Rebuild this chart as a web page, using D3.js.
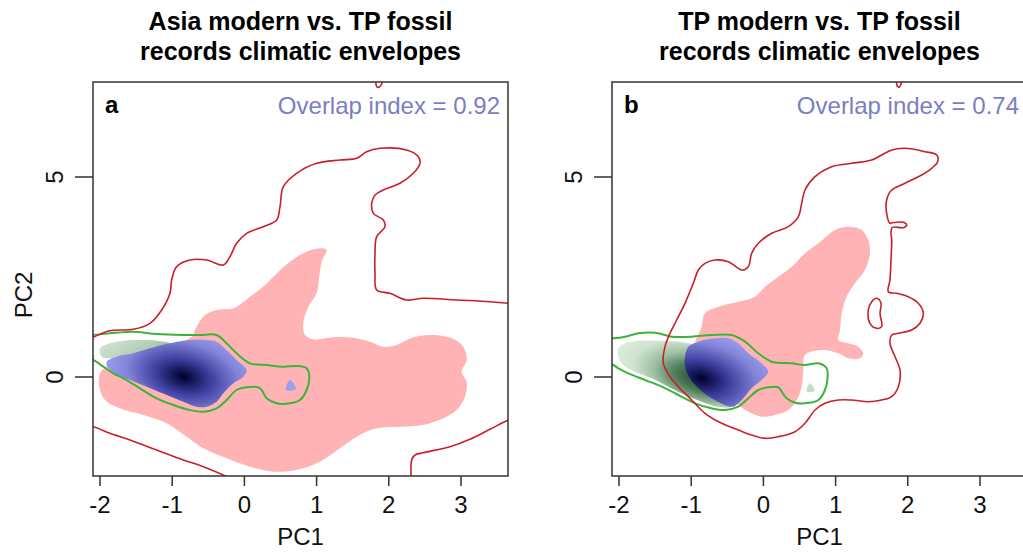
<!DOCTYPE html>
<html>
<head>
<meta charset="utf-8">
<script src="https://cdn.jsdelivr.net/npm/d3@7"></script>
<style>
  body { margin: 0; background: #fff; }
  svg { font-family: "Liberation Sans", Arial, sans-serif; }
  .tick-label { font-size: 24px; fill: #111; }
  .axis-title { font-size: 24px; fill: #111; }
  .title { font-size: 25px; font-weight: bold; fill: #000; }
</style>
</head>
<body>
<div id="chart"></div>
<script>
// ---- data (PC1, PC2 coordinates) ----
var xTicks = [-2, -1, 0, 1, 2, 3];
var yTicks = [0, 5];
var titlesA = ["Asia modern vs. TP fossil", "records climatic envelopes"];
var titlesB = ["TP modern vs. TP fossil", "records climatic envelopes"];
var overlapA = 0.92;
var overlapB = 0.74;

// panel a
var redA_upper = [[-2.25,0.94],[-2.139,0.967],[-1.862,1.158],[-1.539,1.192],[-1.308,1.342],[-1.146,1.675],[-1.031,2.092],[-1.008,2.425],[-0.939,2.758],[-0.754,2.925],[-0.523,2.925],[-0.292,2.8],[-0.2,3.008],[-0.108,3.342],[0.031,3.592],[0.262,3.758],[0.447,3.925],[0.493,4.258],[0.539,4.758],[0.723,5.092],[1.0,5.342],[1.324,5.425],[1.555,5.467],[1.693,5.633],[1.878,5.717],[2.247,5.675],[2.409,5.508],[2.432,5.342],[2.339,5.092],[2.155,4.842],[1.924,4.675],[1.809,4.55],[1.763,4.342],[1.786,4.092],[1.924,3.925],[1.947,3.758],[1.832,3.508],[1.809,3.092],[1.809,2.592],[1.832,2.175],[2.016,2.092],[2.247,1.925],[2.478,1.967],[2.94,1.925],[3.401,1.883],[3.655,1.842],[3.8,1.82]];
var redA_lowLeft = [[-2.25,-1.22],[-2.093,-1.242],[-1.862,-1.408],[-1.585,-1.575],[-1.215,-1.825],[-0.846,-2.075],[-0.569,-2.242],[-0.2,-2.533],[-0.1,-2.65]];
var redA_lowRight = [[2.317,-2.7],[2.317,-2.075],[2.363,-1.95],[2.478,-1.892],[2.848,-1.742],[3.125,-1.558],[3.401,-1.308],[3.655,-1.075],[3.8,-1.0]];
var redA_top = [[1.82,7.5],[1.83,7.27],[1.86,7.24],[1.9,7.32],[1.92,7.5]];
var pinkA = [[-2.0,0.092],[-2.01,-0.242],[-1.931,-0.575],[-1.723,-0.783],[-1.4,-0.95],[-1.077,-1.158],[-0.8,-1.492],[-0.569,-1.783],[-0.246,-2.033],[0.077,-2.242],[0.4,-2.367],[0.723,-2.325],[1.047,-2.117],[1.324,-1.783],[1.555,-1.492],[1.832,-1.283],[2.155,-1.242],[2.478,-1.2],[2.755,-1.033],[2.94,-0.825],[3.055,-0.492],[3.078,-0.117],[3.009,0.133],[3.078,0.425],[3.032,0.758],[2.87,0.967],[2.617,1.05],[2.339,0.992],[2.108,0.8],[1.924,0.758],[1.739,0.883],[1.508,0.983],[1.231,0.992],[0.954,0.942],[0.839,1.05],[0.816,1.342],[0.885,1.758],[1.0,2.092],[1.037,2.508],[1.07,2.883],[1.139,3.175],[1.07,3.217],[0.862,3.133],[0.631,2.883],[0.47,2.633],[0.285,2.3],[0.077,2.008],[-0.154,1.717],[-0.385,1.675],[-0.546,1.55],[-0.662,1.258],[-0.731,1.008],[-1.077,0.758],[-1.585,0.467],[-1.908,0.258]];
var greenLineA = [[-2.25,1.0],[-2.093,1.05],[-1.862,1.092],[-1.539,1.133],[-1.216,1.075],[-0.846,1.05],[-0.615,1.05],[-0.385,1.05],[-0.246,0.842],[-0.108,0.592],[0.077,0.342],[0.308,0.3],[0.539,0.258],[0.723,0.275],[0.862,0.217],[0.899,0.008],[0.862,-0.325],[0.77,-0.575],[0.631,-0.658],[0.447,-0.658],[0.308,-0.533],[0.239,-0.325],[0.193,-0.258],[0.031,-0.258],[-0.108,-0.325],[-0.246,-0.575],[-0.385,-0.783],[-0.569,-0.867],[-0.754,-0.825],[-0.985,-0.7],[-1.216,-0.533],[-1.446,-0.283],[-1.677,-0.033],[-1.816,0.092],[-1.954,0.258],[-2.093,0.425],[-2.25,0.5]];
var greenFillA = [[-2.0,0.717],[-1.862,0.842],[-1.677,0.908],[-1.446,0.925],[-1.216,0.908],[-1.031,0.842],[-1.123,0.717],[-1.308,0.633],[-1.493,0.55],[-1.677,0.508],[-1.862,0.467],[-1.977,0.508]];
var blueA = [[-1.908,0.383],[-1.77,0.508],[-1.539,0.592],[-1.308,0.717],[-1.031,0.842],[-0.754,0.925],[-0.523,0.925],[-0.385,0.883],[-0.246,0.675],[-0.108,0.425],[0.031,0.175],[-0.015,0.008],[-0.154,-0.158],[-0.292,-0.408],[-0.385,-0.617],[-0.523,-0.742],[-0.662,-0.742],[-0.846,-0.617],[-1.077,-0.45],[-1.354,-0.242],[-1.585,-0.075],[-1.77,0.05],[-1.885,0.217]];
var blueCenterA = [-0.846, 0.008];
var dotA = [[0.576,-0.325],[0.631,-0.075],[0.714,-0.308]];

// panel b
var redB_loop = [[-1.386,0.342],[-1.363,0.758],[-1.294,1.092],[-1.201,1.425],[-1.086,1.842],[-0.971,2.342],[-0.901,2.675],[-0.809,2.842],[-0.671,2.925],[-0.486,2.883],[-0.301,2.675],[-0.209,2.758],[-0.163,3.092],[-0.07,3.342],[0.114,3.592],[0.345,3.758],[0.484,4.008],[0.53,4.342],[0.576,4.675],[0.715,5.008],[0.945,5.258],[1.222,5.342],[1.5,5.425],[1.638,5.55],[1.777,5.675],[1.961,5.717],[2.238,5.633],[2.4,5.55],[2.413,5.383],[2.33,5.217],[2.192,5.05],[1.961,4.842],[1.777,4.675],[1.707,4.425],[1.707,4.092],[1.753,3.842],[1.786,3.858],[1.938,3.867],[1.984,3.8],[1.938,3.733],[1.786,3.742],[1.767,3.633],[1.777,3.425],[1.767,2.925],[1.753,2.425],[1.73,2.133],[1.846,2.092],[2.007,2.008],[2.146,1.842],[2.215,1.592],[2.169,1.342],[2.053,1.175],[1.869,1.092],[1.777,1.05],[1.753,0.842],[1.823,0.508],[1.892,0.175],[1.869,-0.242],[1.777,-0.492],[1.638,-0.575],[1.453,-0.617],[1.222,-0.575],[1.038,-0.575],[0.853,-0.658],[0.715,-0.825],[0.576,-1.158],[0.438,-1.367],[0.207,-1.492],[0.022,-1.533],[-0.163,-1.45],[-0.347,-1.325],[-0.578,-1.158],[-0.809,-0.908],[-0.994,-0.575],[-1.178,-0.242],[-1.294,0.008]];
var redB_island = [[1.569,1.967],[1.629,1.842],[1.615,1.592],[1.638,1.258],[1.569,1.217],[1.476,1.342],[1.453,1.675],[1.5,1.883]];
var redB_top = [[1.84,7.5],[1.855,7.27],[1.885,7.25],[1.91,7.35],[1.92,7.5]];
var pinkB = [[-0.855,1.258],[-0.809,1.592],[-0.624,1.758],[-0.347,1.883],[-0.117,2.008],[0.022,2.258],[0.207,2.508],[0.391,2.758],[0.576,3.092],[0.761,3.342],[0.992,3.675],[1.176,3.758],[1.361,3.675],[1.453,3.425],[1.476,3.092],[1.407,2.675],[1.269,2.342],[1.153,2.008],[1.084,1.592],[1.061,1.175],[1.038,0.925],[1.176,0.842],[1.315,0.758],[1.384,0.592],[1.338,0.467],[1.176,0.467],[1.038,0.592],[0.807,0.675],[0.576,0.55],[0.553,0.175],[0.53,-0.242],[0.461,-0.575],[0.345,-0.825],[0.161,-0.95],[-0.024,-0.992],[-0.209,-0.867],[-0.347,-0.7],[-0.717,-0.075],[-0.948,0.758]];
var greenLineB = [[-2.25,0.95],[-2.079,0.967],[-1.917,1.008],[-1.732,1.092],[-1.501,1.108],[-1.363,1.05],[-1.271,1.008],[-0.994,1.008],[-0.717,1.05],[-0.44,1.05],[-0.255,0.883],[-0.07,0.592],[0.114,0.383],[0.391,0.342],[0.576,0.3],[0.761,0.342],[0.876,0.217],[0.89,0.008],[0.853,-0.325],[0.761,-0.575],[0.576,-0.658],[0.438,-0.642],[0.322,-0.533],[0.253,-0.367],[0.207,-0.258],[0.068,-0.258],[-0.07,-0.325],[-0.209,-0.533],[-0.347,-0.742],[-0.532,-0.825],[-0.717,-0.783],[-0.948,-0.658],[-1.178,-0.45],[-1.409,-0.242],[-1.64,-0.075],[-1.871,0.092],[-2.009,0.217],[-2.079,0.3],[-2.25,0.35]];
var greenFillB = [[-2.009,0.717],[-1.917,0.842],[-1.732,0.908],[-1.455,0.908],[-1.178,0.883],[-0.994,0.8],[-1.063,0.425],[-1.04,0.092],[-0.855,-0.242],[-0.578,-0.575],[-0.44,-0.742],[-0.624,-0.742],[-0.855,-0.617],[-1.086,-0.45],[-1.317,-0.242],[-1.548,-0.033],[-1.778,0.133],[-1.94,0.3],[-2.009,0.508]];
var greenCenterB = [-0.88, -0.03];
var blueB = [[-1.086,0.508],[-1.04,0.758],[-0.901,0.883],[-0.671,0.967],[-0.486,0.967],[-0.347,0.842],[-0.209,0.592],[-0.024,0.342],[0.068,0.133],[-0.024,-0.075],[-0.163,-0.283],[-0.301,-0.575],[-0.417,-0.742],[-0.532,-0.7],[-0.717,-0.533],[-0.901,-0.283],[-1.017,-0.033],[-1.086,0.258]];
var blueCenterB = [-0.855, -0.033];
var dotB = [[0.599,-0.367],[0.645,-0.158],[0.715,-0.342]];

// ---- layout ----
var svgW = 1023, svgH = 552;
var plotW = 415, plotH = 394;
var panels = [
  { id: "a", left: 93, top: 82, titles: titlesA, overlap: overlapA, showYTitle: true,
    red: [redA_upper, redA_lowLeft, redA_lowRight, redA_top], redClosed: [],
    pink: pinkA, greenFill: greenFillA, greenCenter: null, blue: blueA, blueCenter: blueCenterA,
    dot: dotA, dotColor: "#9c9ef0", greenLine: greenLineA },
  { id: "b", left: 612, top: 82, titles: titlesB, overlap: overlapB, showYTitle: false,
    red: [redB_top], redClosed: [redB_loop, redB_island],
    pink: pinkB, greenFill: greenFillB, greenCenter: greenCenterB, blue: blueB, blueCenter: blueCenterB,
    dot: dotB, dotColor: "#c6dec8", greenLine: greenLineB }
];

var x = d3.scaleLinear().domain([-2.097, 3.651]).range([0, plotW]);
var y = d3.scaleLinear().domain([-2.475, 7.375]).range([plotH, 0]);

var openLine = d3.line().x(function(d) { return x(d[0]); }).y(function(d) { return y(d[1]); })
    .curve(d3.curveCatmullRom.alpha(0.5));
var closedLine = d3.line().x(function(d) { return x(d[0]); }).y(function(d) { return y(d[1]); })
    .curve(d3.curveCatmullRomClosed.alpha(0.5));

var svg = d3.select("#chart").append("svg")
    .attr("width", svgW)
    .attr("height", svgH);
var defs = svg.append("defs");

panels.forEach(function(p) {
    var g = svg.append("g").attr("transform", "translate(" + p.left + "," + p.top + ")");

    defs.append("clipPath").attr("id", "clip-" + p.id)
        .append("rect").attr("width", plotW).attr("height", plotH);

    // blue density gradient
    var bcx = x(p.blueCenter[0]), bcy = y(p.blueCenter[1]);
    var bg = defs.append("radialGradient").attr("id", "blue-" + p.id)
        .attr("gradientUnits", "userSpaceOnUse")
        .attr("cx", bcx).attr("cy", bcy).attr("r", 82)
        .attr("gradientTransform", "translate(" + bcx + "," + bcy + ") rotate(14) scale(1,0.6) translate(" + (-bcx) + "," + (-bcy) + ")");
    [[0, "#000028"], [0.1, "#10114f"], [0.35, "#3e40a0"], [0.7, "#8284d8"], [1, "#9d9ff1"]].forEach(function(s) {
        bg.append("stop").attr("offset", s[0]).attr("stop-color", s[1]);
    });

    // green density gradient
    if (p.greenCenter) {
        var gcx = x(p.greenCenter[0]), gcy = y(p.greenCenter[1]);
        var gg = defs.append("radialGradient").attr("id", "green-" + p.id)
            .attr("gradientUnits", "userSpaceOnUse")
            .attr("cx", gcx).attr("cy", gcy).attr("r", 95)
            .attr("gradientTransform", "translate(" + gcx + "," + gcy + ") rotate(15) scale(1,0.5) translate(" + (-gcx) + "," + (-gcy) + ")");
        [[0, "#1e4628"], [0.28, "#527f5c"], [0.5, "#9fc0a4"], [0.72, "#cfe3cf"], [1, "#e0eee0"]].forEach(function(s) {
            gg.append("stop").attr("offset", s[0]).attr("stop-color", s[1]);
        });
    } else {
        var gg = defs.append("linearGradient").attr("id", "green-" + p.id)
            .attr("x1", 0).attr("x2", 1).attr("y1", 0).attr("y2", 0.4);
        [[0, "#d6e8d6"], [0.7, "#b3ceb4"], [1, "#9cbb9f"]].forEach(function(s) {
            gg.append("stop").attr("offset", s[0]).attr("stop-color", s[1]);
        });
    }

    var plot = g.append("g").attr("clip-path", "url(#clip-" + p.id + ")");

    plot.append("path").attr("d", closedLine(p.pink)).attr("fill", "#ffb3b4");
    plot.append("path").attr("d", closedLine(p.greenFill)).attr("fill", "url(#green-" + p.id + ")");
    plot.append("path").attr("d", closedLine(p.blue)).attr("fill", "url(#blue-" + p.id + ")");
    plot.append("path").attr("d", closedLine(p.dot)).attr("fill", p.dotColor);

    plot.append("path").attr("d", openLine(p.greenLine))
        .attr("fill", "none").attr("stroke", "#3cb43c").attr("stroke-width", 2);

    p.red.forEach(function(r) {
        plot.append("path").attr("d", openLine(r))
            .attr("fill", "none").attr("stroke", "#c8202a").attr("stroke-width", 1.6);
    });
    p.redClosed.forEach(function(r) {
        plot.append("path").attr("d", closedLine(r))
            .attr("fill", "none").attr("stroke", "#c8202a").attr("stroke-width", 1.6);
    });

    // box
    g.append("rect").attr("width", plotW).attr("height", plotH)
        .attr("fill", "none").attr("stroke", "#333").attr("stroke-width", 1.5);

    // x axis
    g.selectAll(".xtick").data(xTicks).enter().append("line")
        .attr("x1", function(d) { return x(d); }).attr("x2", function(d) { return x(d); })
        .attr("y1", plotH).attr("y2", plotH + 10)
        .attr("stroke", "#333").attr("stroke-width", 1.5);
    g.selectAll(".xlab").data(xTicks).enter().append("text")
        .attr("class", "tick-label")
        .attr("x", function(d) { return x(d); })
        .attr("y", plotH + 37)
        .attr("text-anchor", "middle")
        .text(function(d) { return d; });
    g.append("text").attr("class", "axis-title")
        .attr("x", plotW / 2).attr("y", plotH + 69)
        .attr("text-anchor", "middle").text("PC1");

    // y axis
    g.selectAll(".ytick").data(yTicks).enter().append("line")
        .attr("x1", -18).attr("x2", 0)
        .attr("y1", function(d) { return y(d); }).attr("y2", function(d) { return y(d); })
        .attr("stroke", "#333").attr("stroke-width", 1.5);
    g.selectAll(".ylab").data(yTicks).enter().append("text")
        .attr("class", "tick-label")
        .attr("transform", function(d) { return "translate(-30," + y(d) + ") rotate(-90)"; })
        .attr("text-anchor", "middle")
        .text(function(d) { return d; });
    if (p.showYTitle) {
        g.append("text").attr("class", "axis-title")
            .attr("transform", "translate(-61,213) rotate(-90)")
            .attr("text-anchor", "middle").text("PC2");
    }

    // titles
    p.titles.forEach(function(t, i) {
        g.append("text").attr("class", "title")
            .attr("x", plotW / 2).attr("y", -52 + i * 30)
            .attr("text-anchor", "middle").text(t);
    });

    g.append("text").attr("x", 12).attr("y", 31)
        .style("font-size", "24px").style("font-weight", "bold").text(p.id);
    g.append("text").attr("x", plotW - 8).attr("y", 32)
        .attr("text-anchor", "end")
        .style("font-size", "24px").style("fill", "#7a7ec4")
        .text("Overlap index = " + p.overlap);
});
</script>
</body>
</html>
